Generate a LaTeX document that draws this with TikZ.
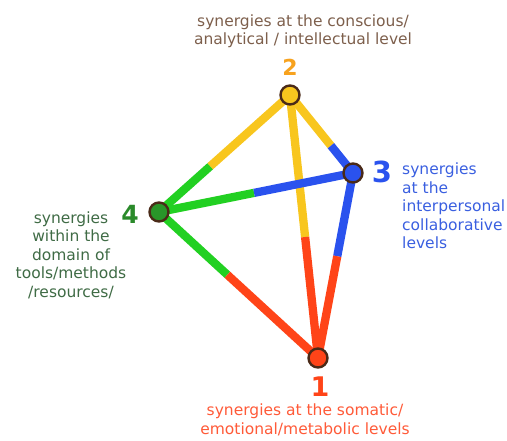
\documentclass[tikz,border=0pt]{standalone}
\usepackage{fontspec}
\setmainfont{DejaVu Sans}
\usetikzlibrary{positioning,calc,backgrounds}
\definecolor{cYel}{HTML}{F8C61E}
\definecolor{cBlue}{HTML}{2A52EE}
\definecolor{cGreen}{HTML}{22D022}
\definecolor{cRed}{HTML}{FF4418}
\definecolor{cRim}{HTML}{4A2A18}
\definecolor{cNum}{HTML}{F7A21E}
\definecolor{cBrown}{HTML}{7D5F4C}
\definecolor{cDkGreen}{HTML}{2A8A2A}
\definecolor{cGrayGreen}{HTML}{3F6B45}
\definecolor{cLtBlue}{HTML}{3A5FE0}
\definecolor{cLtRed}{HTML}{FF5A38}

\tikzset{
  vertex/.style={circle,draw=cRim,line width=2.4pt,minimum size=19pt,inner sep=0pt},
  edge/.style={line width=8.3pt},
  num/.style={font=\fontsize{#1}{#1}\selectfont\bfseries,inner sep=0pt},
  lbl/.style={font=\fontsize{15.5}{18.5}\selectfont,inner sep=0pt}
}

\begin{document}
\begin{tikzpicture}[x=1pt, y=-1pt]
    \useasboundingbox (0,0) rectangle (507,441);

    % --- the four levels ---------------------------------------------
    \node[vertex,fill=cRed]   (n1) at (318,358) {};
    \node[vertex,fill=cYel]   (n2) at (290,95) {};
    \node[vertex,fill=cBlue]  (n3) at (353,173) {};
    \node[vertex,fill=cDkGreen!85!cGreen] (n4) at (159,212) {};

    % --- two-coloured links, split where the colour changes -----------
    \begin{scope}[on background layer]
    \foreach \a/\b/\ca/\cb/\t in {%
        n2/n3/cYel/cBlue/0.65,
        n2/n4/cYel/cGreen/0.61,
        n2/n1/cYel/cRed/0.54,
        n4/n3/cGreen/cBlue/0.49,
        n3/n1/cBlue/cRed/0.45,
        n4/n1/cGreen/cRed/0.43}
    {
      \draw[edge,\ca] (\a.center) -- ($(\a.center)!\t!(\b.center)$);
      \draw[edge,\cb] ($(\a.center)!\t!(\b.center)$) -- (\b.center);
    }
    \end{scope}

    % --- numbers -------------------------------------------------------
    \node[num=22,text=cNum]     (k2) at (290,67) {2};
    \node[num=29,text=cBlue]    (k3) at (382,172) {3};
    \node[num=25,text=cDkGreen] (k4) at (130,214) {4};
    \node[num=27,text=cRed]     (k1) at (320,387) {1};

    % --- captions ------------------------------------------------------
    \node[lbl,text=cBrown,align=center] (t2) at (303,31)
      {synergies at the conscious/\\analytical / intellectual level};
    \node[lbl,text=cLtBlue,align=left,anchor=west] (t3) at (402,206)
      {synergies\\at the\\interpersonal\\collaborative\\levels};
    \node[lbl,text=cGrayGreen,align=center] (t4) at (71,255)
      {synergies\\within the\\domain of\\tools/methods\\/resources/};
    \node[lbl,text=cLtRed,align=center] (t1) at (305,420)
      {synergies at the somatic/\\emotional/metabolic levels};
\end{tikzpicture}
\end{document}
